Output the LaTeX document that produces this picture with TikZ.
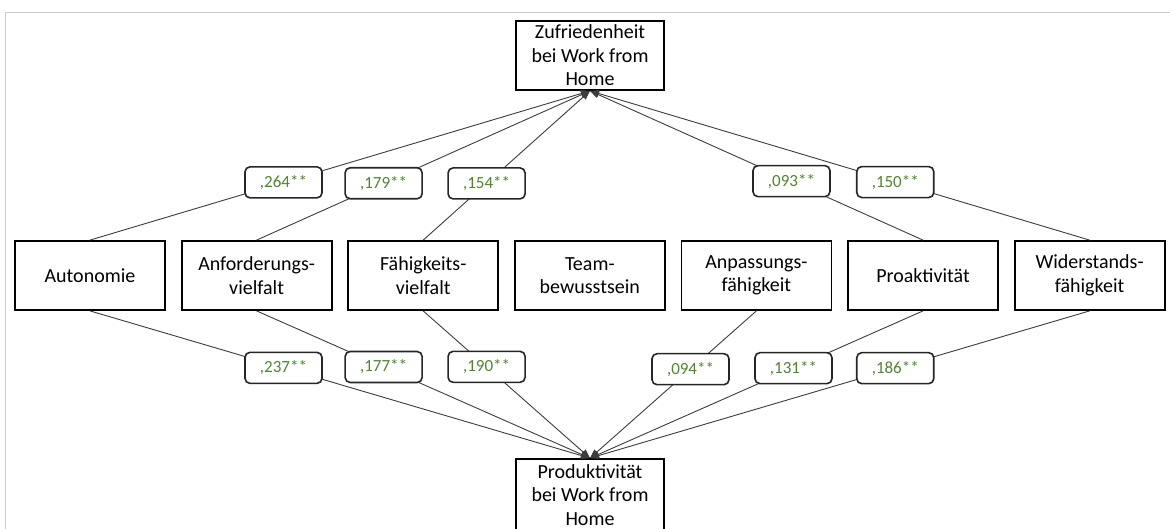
\documentclass[tikz,border=0pt]{standalone}
\usepackage{fontspec}
\setmainfont{Carlito}
\usetikzlibrary{arrows.meta}
\definecolor{lblgreen}{RGB}{84,130,53}
\definecolor{framegray}{RGB}{205,205,205}
\definecolor{linegray}{RGB}{60,60,60}
\begin{document}
\begin{tikzpicture}[x=1pt,y=-1pt,
  box/.style={draw, line width=1.8pt, minimum width=150pt, minimum height=69pt, inner sep=0pt, align=center, font=\fontsize{20}{23.5}\selectfont},
  coef/.style={draw=black!85, line width=1.6pt, rounded corners=5pt, fill=white, text=lblgreen, minimum width=77pt, minimum height=31pt, inner sep=0pt, font=\fontsize{17}{20}\selectfont},
  link/.style={draw=linegray, line width=0.9pt, -{Triangle[length=9pt,width=7pt]}}]
\useasboundingbox (0,0) rectangle (1170,529);
\clip (0,0) rectangle (1170,529);
\draw[framegray, line width=1.6pt] (5.5,529) -- (5.5,12.5) -- (1170,12.5);

% outcome boxes
\node[box, minimum width=148pt] (zuf) at (590,55.5) {Zufriedenheit\\bei Work from\\Home};
\node[box, minimum width=148pt, minimum height=72pt] (prod) at (590,495) {Produktivität\\bei Work from\\Home};

% predictor boxes
\node[box] (auto) at (90,275.5) {Autonomie};
\node[box] (anf)  at (256.6,275.5) {Anforderungs-\\vielfalt};
\node[box] (faeh) at (423.2,275.5) {Fähigkeits-\\vielfalt};
\node[box] (team) at (589.8,275.5) {Team-\\bewusstsein};
\node[box] (anp)  at (756.4,275.5) {Anpassungs-\\fähigkeit};
\node[box] (pro)  at (923,275.5) {Proaktivität};
\node[box] (wid)  at (1089.6,275.5) {Widerstands-\\fähigkeit};

% paths to Zufriedenheit
\draw[link] (auto.north) -- node[coef, pos=0.387] (c1) {,264**} (zuf.south);
\draw[link] (anf.north)  -- node[coef, pos=0.381] (c2) {,179**} (zuf.south);
\draw[link] (faeh.north) -- node[coef, pos=0.380] (c3) {,154**} (zuf.south);
\draw[link] (pro.north)  -- node[coef, pos=0.395] (c4) {,093**} (zuf.south);
\draw[link] (wid.north)  -- node[coef, pos=0.389] (c5) {,150**} (zuf.south);

% paths to Produktivitaet
\draw[link] (auto.south) -- node[coef, pos=0.387] (d1) {,237**} (prod.north);
\draw[link] (anf.south)  -- node[coef, pos=0.381] (d2) {,177**} (prod.north);
\draw[link] (faeh.south) -- node[coef, pos=0.380] (d3) {,190**} (prod.north);
\draw[link] (anp.south)  -- node[coef, pos=0.396] (d4) {,094**} (prod.north);
\draw[link] (pro.south)  -- node[coef, pos=0.389] (d5) {,131**} (prod.north);
\draw[link] (wid.south)  -- node[coef, pos=0.389] (d6) {,186**} (prod.north);
\end{tikzpicture}
\end{document}
